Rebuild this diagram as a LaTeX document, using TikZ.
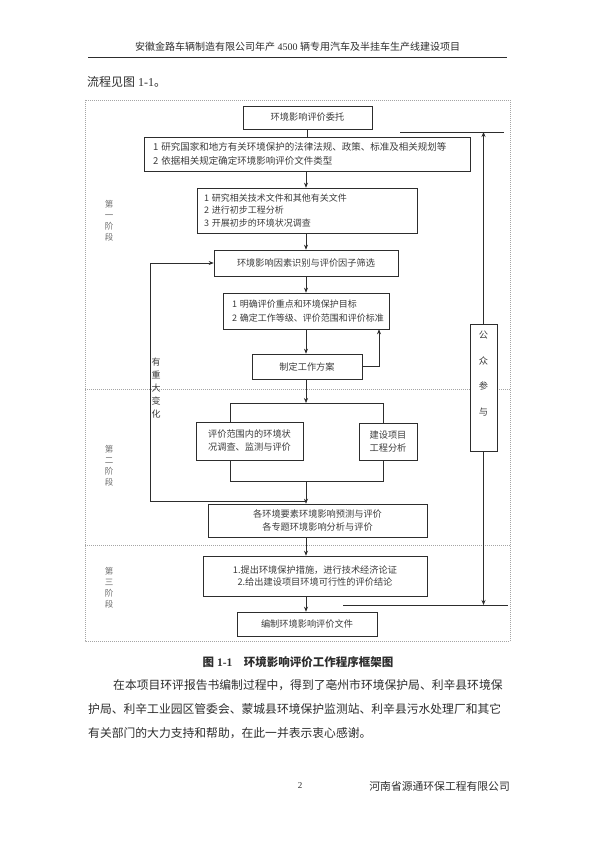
\documentclass[tikz,border=0pt]{standalone}
\usepackage{fontspec}
\setmainfont{Liberation Serif}
\newfontfamily\cjk{Noto Sans CJK SC}
\usetikzlibrary{arrows.meta,calc}
\definecolor{ink}{RGB}{45,45,45}
\definecolor{txt}{RGB}{60,60,60}
\definecolor{frm}{RGB}{165,165,165}
\definecolor{stg}{RGB}{110,110,110}
\begin{document}
\begin{tikzpicture}[x=1pt,y=-1pt,
  box/.style={draw=ink, fill=white, line width=0.6pt, inner sep=0pt, align=center, text=txt,
    font=\cjk\fontsize{9.2}{13}\selectfont},
  lbox/.style={box, align=left},
  ln/.style={draw=ink, line width=0.6pt},
  arr/.style={ln, -{Stealth[length=5pt,width=4pt]}},
  frmline/.style={draw=frm, line width=0.5pt, dash pattern=on 1pt off 1pt},
  stage/.style={inner sep=0pt, align=center, text=stg, font=\cjk\fontsize{8.5}{11}\selectfont},
  para/.style={inner sep=0pt, anchor=west, text=ink, font=\cjk\fontsize{11.8}{14}\selectfont}
]
\useasboundingbox[fill=white] (0,0) rectangle (595,842);

% header
\node[inner sep=0pt, text=ink, font=\fontsize{10}{12}\selectfont] (hd) at (297.5,47)
  {{\cjk 安徽金路车辆制造有限公司年产} 4500 {\cjk 辆专用汽车及半挂车生产线建设项目}};
\coordinate (hl) at (88,57); \coordinate (hr) at (507,57);
\draw[draw=ink, line width=0.7pt] (hl) -- (hr);
\node[inner sep=0pt, anchor=west, text=ink, font=\fontsize{12}{14}\selectfont] (intro) at (87,82)
  {{\cjk 流程见图} 1-1{\cjk 。}};

% frame and stage dividers
\draw[frmline] (85,100) rectangle (510,641);
\draw[frmline] (85,389) -- (510,389);
\draw[frmline] (85,545) -- (510,545);

% stage labels
\node[stage] (s1) at (109,221) {第\\一\\阶\\段};
\node[stage] (s2) at (109,466) {第\\二\\阶\\段};
\node[stage] (s3) at (109,588) {第\\三\\阶\\段};

% boxes
\node[box, minimum width=129pt, minimum height=23pt] (b1) at (307.5,117.5) {环境影响评价委托};
\node[lbox, minimum width=326pt, minimum height=34pt, text width=308pt,
  font=\cjk\fontsize{9.5}{14}\selectfont] (b2) at (307,154)
  {1~研究国家和地方有关环境保护的法律法规、政策、标准及相关规划等\\2~依据相关规定确定环境影响评价文件类型};
\node[lbox, minimum width=220pt, minimum height=45pt, text width=206pt,
  font=\cjk\fontsize{9}{12.5}\selectfont] (b3) at (307,210.5)
  {1~研究相关技术文件和其他有关文件\\2~进行初步工程分析\\3~开展初步的环境状况调查};
\node[box, minimum width=184pt, minimum height=26pt] (b4) at (306,263) {环境影响因素识别与评价因子筛选};
\node[lbox, minimum width=166pt, minimum height=36pt, text width=148pt,
  font=\cjk\fontsize{9}{13.5}\selectfont] (b5) at (306,311)
  {1~明确评价重点和环境保护目标\\2~确定工作等级、评价范围和评价标准};
\node[box, minimum width=110pt, minimum height=25pt] (b6) at (307,366.5) {制定工作方案};
\node[box, minimum width=107pt, minimum height=38pt] (b7) at (249.5,441) {评价范围内的环境状\\况调查、监测与评价};
\node[box, minimum width=58pt, minimum height=37pt] (b8) at (388,441.5) {建设项目\\工程分析};
\node[box, minimum width=219pt, minimum height=33pt, font=\cjk\fontsize{9.2}{12.5}\selectfont] (b9) at (317.5,520.5)
  {各环境要素环境影响预测与评价\\各专题环境影响分析与评价};
\node[box, minimum width=224pt, minimum height=40pt, font=\cjk\fontsize{9.2}{12.5}\selectfont] (b10) at (315,576)
  {1.提出环境保护措施，进行技术经济论证\\2.给出建设项目环境可行性的评价结论};
\node[box, minimum width=140pt, minimum height=24pt] (b11) at (307,624) {编制环境影响评价文件};
\node[box, minimum width=27pt, minimum height=127pt] (pub) at (483.5,387.5) {};
\node[inner sep=0pt, align=center, text=txt, font=\cjk\fontsize{9.2}{25.7}\selectfont] (pubt) at (483.5,373.5)
  {公\\众\\参\\与};
\node[inner sep=0pt, align=center, text=txt, font=\cjk\fontsize{9}{12.8}\selectfont] (chg) at (156,388)
  {有\\重\\大\\变\\化};

% connectors
\coordinate (c) at (306,0);
\draw[ln] (b1.south) -- (b1.south |- b2.north);
\draw[arr] (b2.south -| c) -- (b3.north -| c);
\draw[arr] (b3.south -| c) -- (b4.north -| c);
\draw[arr] (b4.south) -- (b5.north);
\draw[arr] (b5.south) -- (b6.north -| b5.south);
\coordinate (r6) at (379,0);
\draw[arr] (b6.east) -| (b5.south -| r6);
\coordinate (sp) at (306,403);
\coordinate (l7) at (230,403);
\coordinate (r8) at (383,403);
\draw[arr] (b6.south -| c) -- (sp);
\draw[ln] (b7.north -| l7) -- (l7) -- (r8) -- (b8.north -| r8);
\coordinate (l7b) at (230,481);
\coordinate (r8b) at (383,481);
\draw[ln] (b7.south -| l7b) -- (l7b) -- (r8b) -- (b8.south -| r8b);
\coordinate (m) at (306,481);
\draw[arr] (m) -- (b9.north -| c);
\coordinate (fb) at (150,501);
\draw[arr] (fb -| c) -- (fb) |- (b4.west);
\draw[arr] (b9.south -| c) -- (b10.north -| c);
\draw[arr] (b10.south -| c) -- (b11.north -| c);
\coordinate (pt1) at (400,132); \coordinate (pt2) at (504,132);
\draw[ln] (pt1) -- (pt2);
\draw[arr] (pub.north) -- (pub.north |- pt1);
\coordinate (pb1) at (343,605); \coordinate (pb2) at (508,605);
\draw[ln] (pb1) -- (pb2);
\draw[arr] (pub.south) -- (pub.south |- pb1);

% caption and paragraph
\node[inner sep=0pt, text=ink, font=\bfseries\fontsize{11.5}{14}\selectfont] (cap) at (298,662)
  {{\cjk 图} 1-1\quad{\cjk 环境影响评价工作程序框架图}};
\node[para] (p1) at (113,685) {在本项目环评报告书编制过程中，得到了亳州市环境保护局、利辛县环境保};
\node[para] (p2) at (88,709) {护局、利辛工业园区管委会、蒙城县环境保护监测站、利辛县污水处理厂和其它};
\node[para] (p3) at (88,733) {有关部门的大力支持和帮助，在此一并表示衷心感谢。};

% footer
\node[inner sep=0pt, text=ink, font=\fontsize{9}{11}\selectfont] (pg) at (300,786) {2};
\node[inner sep=0pt, anchor=east, text=ink, font=\cjk\fontsize{10.8}{12}\selectfont] (ft) at (510,786)
  {河南省源通环保工程有限公司};
\end{tikzpicture}
\end{document}
